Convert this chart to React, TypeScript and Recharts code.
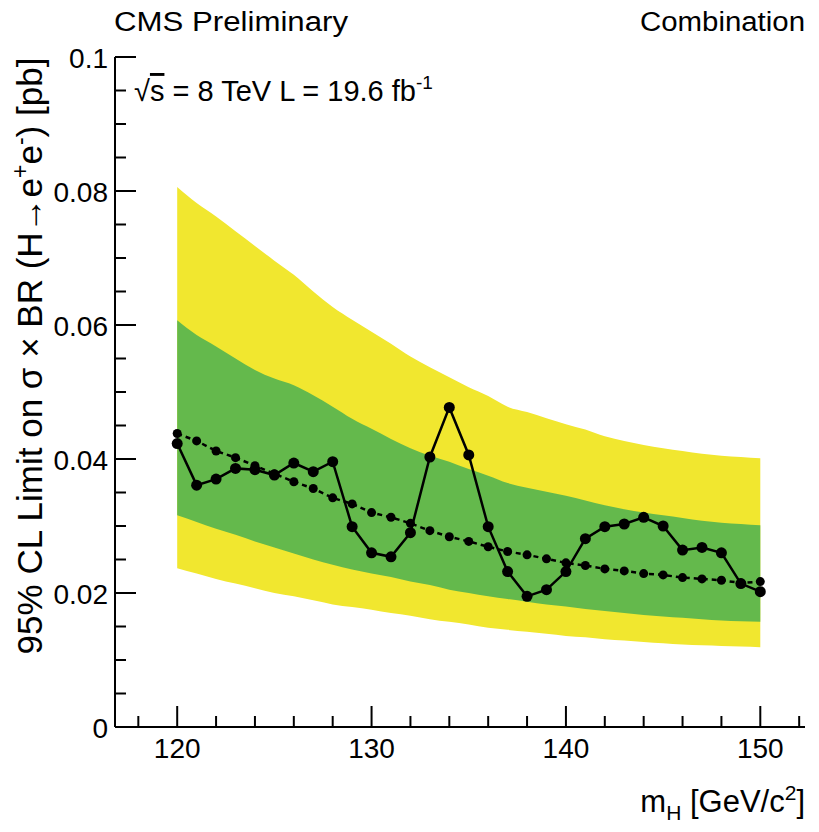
import { Area, ComposedChart, Line, XAxis, YAxis } from 'recharts';

// Higgs mass points (GeV/c^2)
const masses = [
  120, 121, 122, 123, 124, 125, 126, 127, 128, 129, 130, 131, 132, 133, 134, 135,
  136, 137, 138, 139, 140, 141, 142, 143, 144, 145, 146, 147, 148, 149, 150,
];

// observed 95% CL limit [pb]
const observed = [
  0.0423, 0.0361, 0.037, 0.0386, 0.0384, 0.0376, 0.0394, 0.0381, 0.0396, 0.0299, 0.026,
  0.0254, 0.029, 0.0403, 0.0477, 0.0406, 0.0299, 0.0232, 0.0195, 0.0205, 0.0232, 0.0281,
  0.0299, 0.0303, 0.0313, 0.03, 0.0264, 0.0268, 0.026, 0.0214, 0.0202,
];

// median expected limit [pb]
const expected = [
  0.0438, 0.0427, 0.0412, 0.0402, 0.039, 0.0378, 0.0366, 0.0356, 0.0342, 0.0333, 0.032,
  0.0313, 0.0304, 0.0293, 0.0284, 0.0277, 0.0269, 0.0262, 0.0257, 0.0251, 0.0245, 0.0241,
  0.0236, 0.0233, 0.0229, 0.0227, 0.0223, 0.0221, 0.0219, 0.0215, 0.0217,
];

// expected +/- 1 sigma and +/- 2 sigma band edges [pb]
const plus2 = [
  0.0806, 0.0782, 0.0762, 0.074, 0.0718, 0.0696, 0.0675, 0.065, 0.0627, 0.0608, 0.059,
  0.0572, 0.0553, 0.0537, 0.0522, 0.0507, 0.0494, 0.0478, 0.047, 0.0461, 0.0452, 0.0444,
  0.0434, 0.0427, 0.0421, 0.0416, 0.0412, 0.0408, 0.0405, 0.0403, 0.0401,
];
const plus1 = [
  0.0607, 0.0585, 0.0568, 0.055, 0.0533, 0.052, 0.051, 0.0495, 0.0478, 0.046, 0.0445,
  0.043, 0.0416, 0.0405, 0.0396, 0.0385, 0.0375, 0.0364, 0.0357, 0.0351, 0.0345, 0.0338,
  0.0331, 0.0325, 0.032, 0.0316, 0.0312, 0.0308, 0.0305, 0.0303, 0.0301,
];
const minus1 = [
  0.0316, 0.0306, 0.0296, 0.0287, 0.0277, 0.0268, 0.0259, 0.025, 0.0242, 0.0235, 0.0229,
  0.0224, 0.0217, 0.0212, 0.0205, 0.02, 0.0195, 0.0191, 0.0187, 0.0183, 0.018, 0.0176,
  0.0173, 0.017, 0.0167, 0.0165, 0.0163, 0.0161, 0.0159, 0.0158, 0.0157,
];
const minus2 = [
  0.0237, 0.0229, 0.0221, 0.0214, 0.0207, 0.02, 0.0195, 0.0189, 0.0183, 0.0179, 0.0175,
  0.017, 0.0166, 0.0161, 0.0157, 0.0153, 0.0148, 0.0145, 0.0142, 0.0139, 0.0136, 0.0134,
  0.0131, 0.0129, 0.0127, 0.0125, 0.0123, 0.0122, 0.0121, 0.012, 0.0119,
];

const xTicks = [118, 120, 122, 124, 126, 128, 130, 132, 134, 136, 138, 140, 142, 144, 146, 148, 150, 152];
const xLabels = [120, 130, 140, 150];
const yTicks = [0, 0.005, 0.01, 0.015, 0.02, 0.025, 0.03, 0.035, 0.04, 0.045, 0.05, 0.055, 0.06, 0.065, 0.07, 0.075, 0.08, 0.085, 0.09, 0.095, 0.1];
const yLabels = ['0', '0.02', '0.04', '0.06', '0.08', '0.1'];

const data = masses.map((m, i) => ({
  m,
  obs: observed[i],
  exp: expected[i],
  yellow: [minus2[i], plus2[i]],
  green: [minus1[i], plus1[i]],
}));

const FONT = '"Liberation Sans", Arial, Helvetica, sans-serif';
const MAJOR = 21;
const MINOR = 11;

const isMajorY = (v: number) => Math.abs(v * 50 - Math.round(v * 50)) < 1e-6;

function BottomTick({ x, y, payload }: any) {
  const v = payload.value;
  const major = xLabels.includes(v);
  return (
    <g>
      <line x1={x} x2={x} y1={y} y2={y - (major ? MAJOR : MINOR)} stroke="#000" strokeWidth={2} />
      {major && (
        <text x={x} y={y + 31} textAnchor="middle" fontSize={28} fontFamily={FONT} fill="#000">
          {v}
        </text>
      )}
    </g>
  );
}

function TopTick({ x, y, payload }: any) {
  const major = xLabels.includes(payload.value);
  return <line x1={x} x2={x} y1={y} y2={y + (major ? MAJOR : MINOR)} stroke="#000" strokeWidth={2} />;
}

function LeftTick({ x, y, payload }: any) {
  const v = payload.value;
  const major = isMajorY(v);
  const idx = Math.round(v * 50);
  return (
    <g>
      <line x1={x} x2={x + (major ? MAJOR : MINOR)} y1={y} y2={y} stroke="#000" strokeWidth={2} />
      {major && (
        <text x={x - 7} y={y + 11} textAnchor="end" fontSize={28} fontFamily={FONT} fill="#000">
          {yLabels[idx]}
        </text>
      )}
    </g>
  );
}

function RightTick({ x, y, payload }: any) {
  const major = isMajorY(payload.value);
  return <line x1={x} x2={x - (major ? MAJOR : MINOR)} y1={y} y2={y} stroke="#000" strokeWidth={2} />;
}

export default function App() {
  return (
    <div style={{ position: 'absolute', left: 0, top: 0, width: 819, height: 832, background: '#fff' }}>
      <ComposedChart width={819} height={832} data={data} margin={{ top: 57, right: 14, left: 0, bottom: 0 }}>
        <XAxis
          xAxisId="b"
          dataKey="m"
          type="number"
          domain={[116.8, 152.3]}
          allowDataOverflow
          ticks={xTicks}
          interval={0}
          height={105}
          tickSize={0}
          tickMargin={0}
          tickLine={false}
          axisLine={{ stroke: '#000', strokeWidth: 2 }}
          tick={<BottomTick />}
        />
        <XAxis
          xAxisId="t"
          orientation="top"
          dataKey="m"
          type="number"
          domain={[116.8, 152.3]}
          allowDataOverflow
          ticks={xTicks}
          interval={0}
          height={0}
          tickSize={0}
          tickMargin={0}
          tickLine={false}
          axisLine={{ stroke: '#000', strokeWidth: 2 }}
          tick={<TopTick />}
        />
        <YAxis
          yAxisId="l"
          type="number"
          domain={[0, 0.1]}
          ticks={yTicks}
          interval={0}
          width={115}
          tickSize={0}
          tickMargin={0}
          tickLine={false}
          axisLine={{ stroke: '#000', strokeWidth: 2 }}
          tick={<LeftTick />}
        />
        <YAxis
          yAxisId="r"
          orientation="right"
          type="number"
          domain={[0, 0.1]}
          ticks={yTicks}
          interval={0}
          width={0}
          tickSize={0}
          tickMargin={0}
          tickLine={false}
          axisLine={{ stroke: '#000', strokeWidth: 2 }}
          tick={<RightTick />}
        />
        <Area xAxisId="b" yAxisId="l" type="monotone" dataKey="yellow" fill="#f1e72f" fillOpacity={1} stroke="none" isAnimationActive={false} />
        <Area xAxisId="b" yAxisId="l" type="monotone" dataKey="green" fill="#64b94c" fillOpacity={1} stroke="none" isAnimationActive={false} />
        <Line
          xAxisId="b"
          yAxisId="l"
          type="linear"
          dataKey="exp"
          stroke="#000"
          strokeWidth={2.5}
          strokeDasharray="5 4"
          dot={{ r: 4.5, fill: '#000', stroke: '#000', strokeWidth: 0 }}
          isAnimationActive={false}
        />
        <Line
          xAxisId="b"
          yAxisId="l"
          type="linear"
          dataKey="obs"
          stroke="#000"
          strokeWidth={2.5}
          dot={{ r: 5.5, fill: '#000', stroke: '#000', strokeWidth: 0 }}
          isAnimationActive={false}
        />
      </ComposedChart>
      <svg width={819} height={832} style={{ position: 'absolute', left: 0, top: 0, pointerEvents: 'none' }}>
        <g fontFamily={FONT} fill="#000">
          <text x={114} y={31} fontSize={27} textLength={234} lengthAdjust="spacingAndGlyphs">CMS Preliminary</text>
          <text x={640} y={31} fontSize={27} textLength={165} lengthAdjust="spacingAndGlyphs">Combination</text>
          <text x={134} y={101} fontSize={29}>
            √<tspan textDecoration="overline">s</tspan> = 8 TeV L = 19.6 fb
            <tspan dy={-12} fontSize={19}>-1</tspan>
          </text>
          <text x={805} y={812} fontSize={31} textAnchor="end">
            m<tspan dy={8} fontSize={21}>H</tspan>
            <tspan dy={-8}> [GeV/c</tspan>
            <tspan dy={-12} fontSize={21}>2</tspan>
            <tspan dy={12}>]</tspan>
          </text>
          <text transform="translate(42, 356) rotate(-90)" fontSize={35} textAnchor="middle">
            95% CL Limit on σ × BR (H→e<tspan dy={-14} fontSize={23}>+</tspan>
            <tspan dy={14}>e</tspan>
            <tspan dy={-14} fontSize={23}>-</tspan>
            <tspan dy={14}>) [pb]</tspan>
          </text>
        </g>
      </svg>
    </div>
  );
}
